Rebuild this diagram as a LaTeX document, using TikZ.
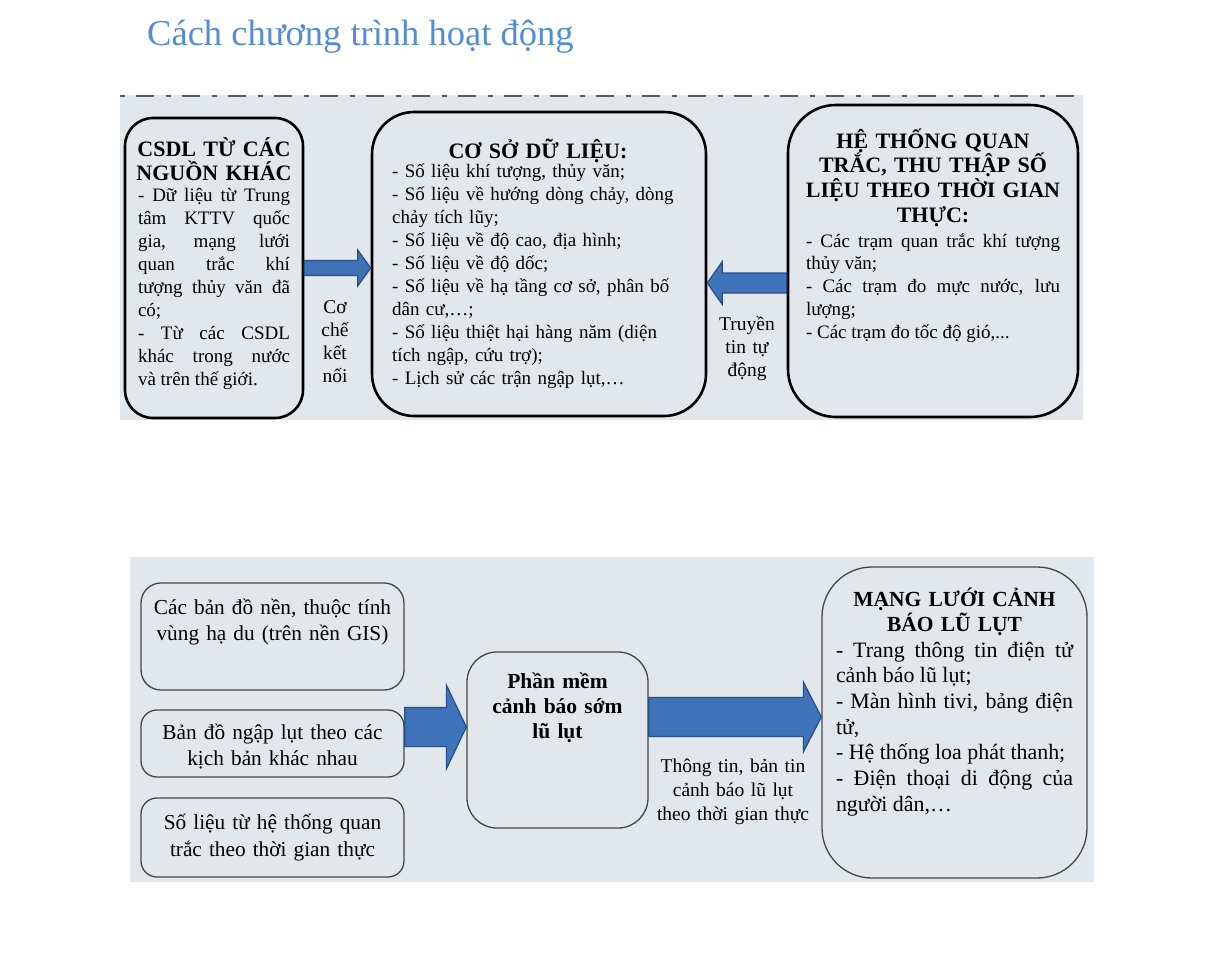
\documentclass[tikz,border=0pt]{standalone}
\usepackage{fontspec}
\setmainfont{Liberation Serif}
\usetikzlibrary{calc}
\definecolor{panel}{RGB}{225,231,235}
\definecolor{titleblue}{RGB}{84,141,212}
\definecolor{arrowfill}{RGB}{62,114,185}
\definecolor{arrowedge}{RGB}{38,78,135}
\definecolor{boxline}{RGB}{70,70,70}
\definecolor{dashcol}{RGB}{90,90,90}
\tolerance=10000
\hyphenpenalty=10000
\hbadness=10000
\newcommand{\hblockarrow}[6]{%
  \draw[blockarrow] let \p1=(#1|-#3), \p2=(#2|-#3), \n1={\x2-(#6)} in
    ({\x1},{\y1+#4}) -- ({\n1},{\y1+#4}) -- ({\n1},{\y1+#5}) -- ({\x2},{\y1})
    -- ({\n1},{\y1-#5}) -- ({\n1},{\y1-#4}) -- ({\x1},{\y1-#4}) -- cycle;}
\tikzset{
  topbox/.style={draw=black, line width=2.6pt, inner sep=0pt},
  botbox/.style={draw=boxline, line width=1.3pt, inner sep=0pt},
  body/.style={inner sep=0pt, font=\fontsize{19}{23.1}\selectfont},
  toptitle/.style={inner sep=0pt, align=center, font=\bfseries\fontsize{22}{24.7}\selectfont},
  bbody/.style={inner sep=0pt, font=\fontsize{21.3}{26}\selectfont},
  btitle/.style={inner sep=0pt, align=center, font=\bfseries\fontsize{21.5}{25}\selectfont},
  blockarrow/.style={fill=arrowfill, draw=arrowedge, line width=1.2pt, line join=miter},
  panelbg/.style={fill=panel, draw=none},
  dashline/.style={draw=dashcol, line width=2.2pt, dash pattern=on 5pt off 11pt on 18pt off 12pt},
}
\begin{document}
\begin{tikzpicture}[x=1pt,y=-1pt]
\useasboundingbox (0,0) rectangle (1211,964);
% title
\node[inner sep=0pt, anchor=base west, text=titleblue, font=\fontsize{36.5}{40}\selectfont] (title) at (147,45) {Cách chương trình hoạt động};

% ---------- top panel ----------
\fill[panelbg] (120,95) rectangle (1083,420);
\draw[dashline] (120,96) -- (1083,96);

\node[topbox, minimum width=178pt, minimum height=300pt, rounded corners=28pt] (b1) at (214,268) {};
\node[topbox, minimum width=334pt, minimum height=304pt, rounded corners=42pt] (b2) at (539,264) {};
\node[topbox, minimum width=290pt, minimum height=312pt, rounded corners=48pt] (b3) at (933,261) {};

\node[toptitle, text width=175pt, anchor=base] (t1a) at (214,156) {CSDL TỪ CÁC\\NGUỒN KHÁC};
\node[body, text width=152pt, align=justify, anchor=base] (t1b) at (214,201)
 {- Dữ liệu từ Trung\linebreak tâm KTTV quốc\linebreak gia, mạng lưới\linebreak quan trắc khí\linebreak tượng thủy văn đã\linebreak có;\\- Từ các CSDL\linebreak khác trong nước\linebreak và trên thế giới.};

\node[toptitle, text width=300pt, anchor=base] (t2a) at (538,158) {CƠ SỞ DỮ LIỆU:};
\node[body, text width=300pt, align=left, anchor=base west] (t2b) at (392,177)
 {- Số liệu khí tượng, thủy văn;\\- Số liệu về hướng dòng chảy, dòng\\chảy tích lũy;\\- Số liệu về độ cao, địa hình;\\- Số liệu về độ dốc;\\- Số liệu về hạ tầng cơ sở, phân bố\\dân cư,…;\\- Số liệu thiệt hại hàng năm (diện\\tích ngập, cứu trợ);\\- Lịch sử các trận ngập lụt,…};

\node[toptitle, text width=280pt, anchor=base] (t3a) at (933,148) {HỆ THỐNG QUAN\\TRẮC, THU THẬP SỐ\\LIỆU THEO THỜI GIAN\\THỰC:};
\node[body, text width=254pt, align=justify, anchor=base, font=\fontsize{19}{22.8}\selectfont] (t3b) at (933,247)
 {- Các trạm quan trắc khí tượng\linebreak thủy văn;\\- Các trạm đo mực nước, lưu\linebreak lượng;\\- Các trạm đo tốc độ gió,...};

\node[body, text width=40pt, align=center, anchor=base, font=\fontsize{19.5}{23.3}\selectfont] (l1) at (335,313) {Cơ\\chế\\kết\\nối};
\node[body, text width=70pt, align=center, anchor=base, font=\fontsize{19.5}{23}\selectfont] (l2) at (747,330) {Truyền\\tin tự\\động};

\coordinate (ya1) at (0,268);
\coordinate (ya2) at (0,283);
\hblockarrow{b1.east}{b2.west}{ya1}{7.5pt}{18pt}{13pt}
\hblockarrow{b3.west}{b2.east}{ya2}{10pt}{21.5pt}{-15pt}

% ---------- bottom panel ----------
\fill[panelbg] (130,557) rectangle (1094,882);

\node[botbox, minimum width=263pt, minimum height=107pt, rounded corners=20pt] (bA) at (272.5,636.5) {};
\node[botbox, minimum width=263pt, minimum height=67pt, rounded corners=16pt] (bB) at (272.5,743.5) {};
\node[botbox, minimum width=263pt, minimum height=79pt, rounded corners=16pt] (bC) at (272.5,837.5) {};
\node[botbox, minimum width=181pt, minimum height=176pt, rounded corners=30pt] (bD) at (557.5,740) {};
\node[botbox, minimum width=265pt, minimum height=311pt, rounded corners=50pt] (bE) at (954.5,722.5) {};

\node[bbody, text width=260pt, align=center, anchor=base] (tA) at (272.5,614) {Các bản đồ nền, thuộc tính\\vùng hạ du (trên nền GIS)};
\node[bbody, text width=260pt, align=center, anchor=base] (tB) at (272.5,739) {Bản đồ ngập lụt theo các\\kịch bản khác nhau};
\node[bbody, text width=260pt, align=center, anchor=base, font=\fontsize{21.3}{27.5}\selectfont] (tC) at (272.5,829) {Số liệu từ hệ thống quan\\trắc theo thời gian thực};
\node[btitle, text width=175pt, anchor=base] (tD) at (557.5,688) {Phần mềm\\cảnh báo sớm\\lũ lụt};
\node[btitle, text width=250pt, anchor=base] (tEa) at (954.5,606) {MẠNG LƯỚI CẢNH\\BÁO LŨ LỤT};
\node[bbody, text width=237pt, align=justify, anchor=base, font=\fontsize{21.9}{25.7}\selectfont] (tEb) at (954.5,657)
 {- Trang thông tin điện tử\linebreak cảnh báo lũ lụt;\\- Màn hình tivi, bảng điện\linebreak tử,\\- Hệ thống loa phát thanh;\\- Điện thoại di động của\linebreak người dân,…};

\node[inner sep=0pt, text width=170pt, align=center, anchor=base, font=\fontsize{19.5}{24}\selectfont] (l3) at (733,772) {Thông tin, bản tin\\cảnh báo lũ lụt\\theo thời gian thực};

\coordinate (ya3) at (0,727);
\coordinate (ya4) at (0,717);
\hblockarrow{bB.east}{bD.west}{ya3}{19.5pt}{42pt}{20pt}
\hblockarrow{bD.east}{bE.west}{ya4}{19.5pt}{35pt}{18pt}
\end{tikzpicture}
\end{document}
